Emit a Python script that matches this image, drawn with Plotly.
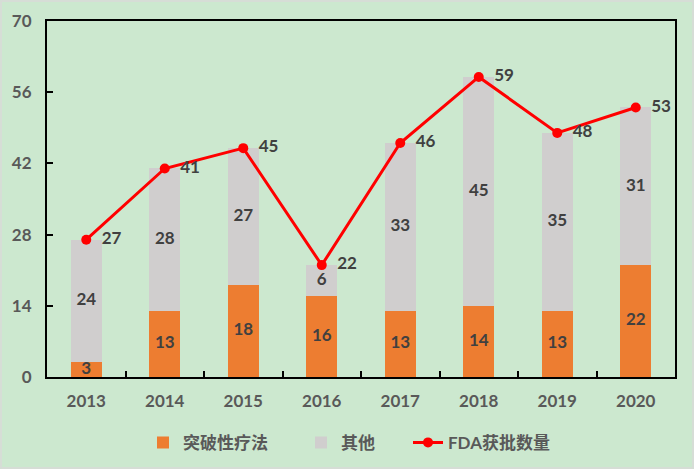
import plotly.graph_objects as go

years = ["2013", "2014", "2015", "2016", "2017", "2018", "2019", "2020"]
breakthrough = [3, 13, 18, 16, 13, 14, 13, 22]
others = [24, 28, 27, 6, 33, 45, 35, 31]
fda_total = [27, 41, 45, 22, 46, 59, 48, 53]
y_ticks = [0, 14, 28, 42, 56, 70]

FONT = "Lato, 'Noto Sans CJK SC', sans-serif"
BG = "#CCE8CF"
ORANGE = "#ED7D31"
GREY = "#D0CECE"
RED = "#FF0000"
LABEL = dict(color="#404040", size=17, family=FONT, weight="bold")

fig = go.Figure()
fig.add_trace(go.Bar(
    x=years, y=breakthrough, name="突破性疗法", legend="legend",
    marker=dict(color=ORANGE, line=dict(width=0)),
))
fig.add_trace(go.Bar(
    x=years, y=others, name="其他", legend="legend2",
    marker=dict(color=GREY, line=dict(width=0)),
))
fig.add_trace(go.Scatter(
    x=years, y=fda_total, name="FDA获批数量", legend="legend3",
    mode="lines+markers+text",
    line=dict(color=RED, width=3),
    marker=dict(color=RED, size=10),
    text=[f"  {v}" for v in fda_total], textposition="middle right",
    textfont=LABEL,
))

# segment labels, centred in each stacked segment
fig.add_trace(go.Scatter(
    x=years, y=[b / 2 for b in breakthrough],
    mode="text", text=breakthrough, textfont=LABEL,
    showlegend=False, hoverinfo="skip",
))
fig.add_trace(go.Scatter(
    x=years, y=[b + o / 2 for b, o in zip(breakthrough, others)],
    mode="text", text=others, textfont=LABEL,
    showlegend=False, hoverinfo="skip",
))

LEG_FONT = dict(size=17, color="#595959", family=FONT, weight="bold")


def legend_at(px):
    return dict(
        orientation="h", x=(px - 47) / 628, xanchor="left",
        y=-0.185, yanchor="middle", font=LEG_FONT,
        bgcolor="rgba(0,0,0,0)",
    )


fig.update_layout(
    width=694, height=469,
    barmode="stack", bargap=0.6,
    paper_bgcolor=BG, plot_bgcolor=BG,
    margin=dict(l=47, r=19, t=21, b=92, autoexpand=False),
    font=dict(family=FONT, size=16, color="#595959"),
    legend=legend_at(143),
    legend2=legend_at(301),
    legend3=legend_at(408),
    showlegend=True,
)
fig.update_xaxes(
    showline=True, linecolor="black", linewidth=2, mirror=True,
    ticks="inside", tickson="boundaries", ticklen=6, tickcolor="black",
    tickwidth=1.5,
    tickfont=dict(size=17, color="#595959", family=FONT, weight="bold"),
    ticklabelstandoff=8,
    showgrid=False,
)
fig.update_yaxes(
    range=[0, 70], tickvals=y_ticks,
    showline=True, linecolor="black", linewidth=2, mirror=True,
    ticks="inside", ticklen=6, tickcolor="black", tickwidth=1.5,
    tickfont=dict(size=17, color="#595959", family=FONT, weight="bold"),
    ticklabelstandoff=10,
    showgrid=False, zeroline=False,
)
# light outer border of the chart
fig.add_shape(
    type="rect", xref="paper", yref="paper",
    x0=-46 / 628, x1=1 + 18 / 628, y0=-91 / 356, y1=1 + 20 / 356,
    line=dict(color="#D9D9D9", width=1.5), layer="below",
)

fig.write_html(
    "out.html",
    config={"displayModeBar": False},
    post_script="document.body.style.margin='0';",
)
